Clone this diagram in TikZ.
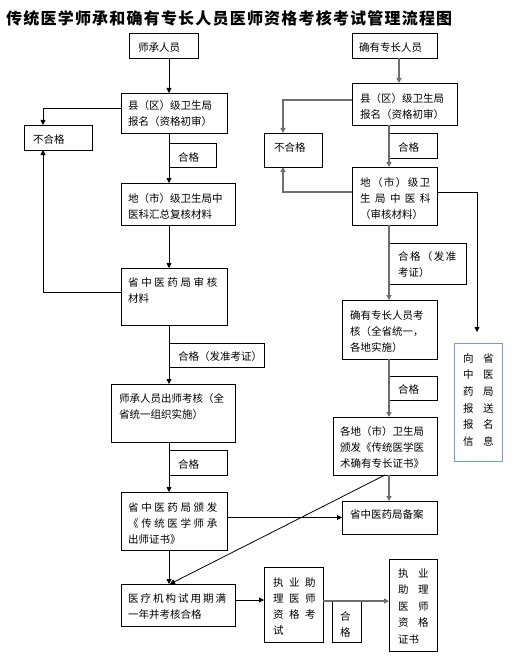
\documentclass[tikz,border=0pt]{standalone}
\usepackage{fontspec}
\newfontfamily\cjk{Noto Sans CJK SC}
\usetikzlibrary{arrows.meta}
\def\spc#1#2{\def\spcamt{#1}\spcloop#2\relax}
\def\spcloop#1{\ifx#1\relax\else#1\kern\spcamt\expandafter\spcloop\fi}
\definecolor{lgray}{HTML}{6E6E6E}
\definecolor{infoblue}{HTML}{7B9CC9}
\tikzset{
  box/.style={draw, line width=0.8pt, anchor=north west, inner sep=0pt, outer sep=0pt},
  txt/.style={anchor=north west, inner sep=0pt, align=left, font=\cjk\fontsize{10.5}{16}\selectfont},
  larr/.style={draw, line width=0.8pt, -{Triangle[length=5pt,width=5pt]}},
  lline/.style={draw, line width=0.8pt},
  rarr/.style={draw=lgray, line width=1.3pt, -{Triangle[length=5pt,width=5pt]}},
  rline/.style={draw=lgray, line width=1.3pt},
}
\begin{document}
\begin{tikzpicture}[x=1pt,y=-1pt]
\useasboundingbox (0,0) rectangle (514,658);
% title
\node[anchor=north west, inner sep=0pt, font=\cjk\bfseries\fontsize{16}{18}\selectfont] (title) at (6,10) {\spc{1.2pt}{传统医学师承和确有专长人员医师资格考核考试管理流程图}};
% ---------- left column ----------
\node[box, minimum width=69pt, minimum height=25pt] (L0) at (129,33) {};
\node[txt] (L0t) at (138,42) {师承人员};
\node[box, minimum width=106pt, minimum height=40pt] (L1) at (121,93) {};
\node[txt] (L1t) at (128,100) {县（区）级卫生局\\报名（资格初审）};
\node[box, minimum width=68pt, minimum height=25pt] (Lno) at (24,125) {};
\node[txt] (Lnot) at (33,134) {不合格};
\node[box, minimum width=47pt, minimum height=24pt] (Lq1) at (169,143) {};
\node[txt] (Lq1t) at (178,152) {合格};
\node[box, minimum width=114pt, minimum height=42pt] (L2) at (121,183) {};
\node[txt] (L2t) at (128,193) {地（市）级卫生局中\\医科汇总复核材料};
\node[box, minimum width=106pt, minimum height=57pt] (L3) at (121,268) {};
\node[txt] (L3t) at (128,277) {\spc{2.6pt}{省中医药局审核}\\材料};
\node[box, minimum width=95pt, minimum height=24pt] (Lq2) at (169,343) {};
\node[txt] (Lq2t) at (178,351) {合格（发准考证）};
\node[box, minimum width=124pt, minimum height=58pt] (L4) at (111,384) {};
\node[txt] (L4t) at (119,393) {师承人员出师考核（全\\省统一组织实施）};
\node[box, minimum width=58pt, minimum height=25pt] (Lq3) at (169,450) {};
\node[txt] (Lq3t) at (178,459) {合格};
\node[box, minimum width=106pt, minimum height=58pt] (L5) at (121,492) {};
\node[txt] (L5t) at (128,502) {\spc{2.6pt}{省中医药局颁发}\\\spc{2.6pt}{《传统医学师承}\\出师证书》};
\node[box, minimum width=114pt, minimum height=42pt] (L6) at (121,584) {};
\node[txt] (L6t) at (128,593) {\spc{2pt}{医疗机构试用期满}\\一年并考核合格};
% ---------- right column ----------
\node[box, minimum width=85pt, minimum height=25pt] (R0) at (352,33) {};
\node[txt] (R0t) at (359,42) {确有专长人员};
\node[box, minimum width=105pt, minimum height=42pt] (R1) at (352,83) {};
\node[txt] (R1t) at (360,93) {县（区）级卫生局\\报名（资格初审）};
\node[box, minimum width=58pt, minimum height=34pt] (Rno) at (264,133) {};
\node[txt] (Rnot) at (274,142) {不合格};
\node[box, minimum width=48pt, minimum height=25pt] (Rq1) at (389,133) {};
\node[txt] (Rq1t) at (398,142) {合格};
\node[box, minimum width=85pt, minimum height=58pt] (R2) at (352,167) {};
\node[txt] (R2t) at (360,177) {\spc{1.4pt}{地（市）级卫}\\\spc{4.4pt}{生局中医科}\\（审核材料）};
\node[box, minimum width=77pt, minimum height=41pt] (Rq2) at (389,243) {};
\node[txt] (Rq2t) at (398,251) {\spc{1.4pt}{合格（发准}\\考证）};
\node[box, minimum width=95pt, minimum height=59pt] (R3) at (342,300) {};
\node[txt] (R3t) at (350,310) {确有专长人员考\\核（全省统一，\\各地实施）};
\node[box, minimum width=48pt, minimum height=24pt] (Rq3) at (389,376) {};
\node[txt] (Rq3t) at (398,384) {合格};
\node[box, minimum width=104pt, minimum height=58pt] (R4) at (333,417) {};
\node[txt] (R4t) at (340,426) {各地（市）卫生局\\颁发《传统医学医\\术确有专长证书》};
\node[box, draw=infoblue, minimum width=48pt, minimum height=118pt] (Rinfo) at (454,343) {};
\node[txt, font=\cjk\fontsize{10.5}{16.7}\selectfont] (Rinfot) at (463,353) {\spc{9.5pt}{向省}\\\spc{9.5pt}{中医}\\\spc{9.5pt}{药局}\\\spc{9.5pt}{报送}\\\spc{9.5pt}{报名}\\\spc{9.5pt}{信息}};
\node[box, minimum width=95pt, minimum height=33pt] (Rbei) at (342,501) {};
\node[txt] (Rbeit) at (350,509) {省中医药局备案};
\node[box, minimum width=59pt, minimum height=75pt] (Rexam) at (264,567) {};
\node[txt, font=\cjk\fontsize{10.5}{16.3}\selectfont] (Rexamt) at (273,577) {\spc{5.5pt}{执业助}\\\spc{5.5pt}{理医师}\\\spc{5.5pt}{资格考}\\试};
\node[box, minimum width=29pt, minimum height=41pt] (Rq4) at (332,601) {};
\node[txt] (Rq4t) at (340,611) {合\\格};
\node[box, minimum width=48pt, minimum height=92pt] (Rcert) at (389,559) {};
\node[txt, font=\cjk\fontsize{10.5}{16.5}\selectfont] (Rcertt) at (398,568) {\spc{9.5pt}{执业}\\\spc{9.5pt}{助理}\\\spc{9.5pt}{医师}\\\spc{9.5pt}{资格}\\证书};
% ---------- helper coordinates ----------
\coordinate (xL) at (169,0);
\coordinate (xLno) at (43,0);
\coordinate (xR0) at (399,0);
\coordinate (xR) at (389,0);
\coordinate (xRno) at (283,0);
\coordinate (xInfo) at (477,0);
\coordinate (infoTip) at (477,332);
\coordinate (L6in) at (170,584);
\coordinate (R4out) at (385,475);
% ---------- left connectors ----------
\path[larr] (L0.south -| xL) -- (L1.north -| xL);
\path[larr] ([yshift=5pt]L1.west) -| (Lno.north -| xLno);
\path[larr] (L1.south -| xL) -- (L2.north -| xL);
\path[larr] (L2.south -| xL) -- (L3.north -| xL);
\path[larr] ([yshift=4.5pt]L3.west) -| (Lno.south -| xLno);
\path[larr] (L3.south -| xL) -- (L4.north -| xL);
\path[larr] (L4.south -| xL) -- (L5.north -| xL);
\path[larr] (L5.south -| xL) -- (L6.north -| xL);
\path[larr] (L5.east |- Rbei.west) -- (Rbei.west);
\path[larr] ([yshift=5pt]L6.east) -- ([yshift=5pt]L6.east -| Rexam.west);
\path[larr] (R4out) -- (L6in);
% ---------- right connectors ----------
\path[rarr] (R0.south -| xR0) -- (R1.north -| xR0);
\path[rarr] ([yshift=4pt]R1.west) -| (Rno.north -| xRno);
\path[rarr] (R1.south -| xR) -- (R2.north -| xR);
\path[rarr] ([yshift=4pt]R2.west) -| (Rno.south -| xRno);
\path[larr] ([yshift=4pt]R2.east) -| (infoTip);
\path[rarr] (R2.south -| xR) -- (R3.north -| xR);
\path[rarr] (R3.south -| xR) -- (R4.north -| xR);
\path[rarr] (R4.south -| xR) -- (Rbei.north -| xR);
\path[rarr] ([yshift=3.5pt]Rexam.east) -- ([yshift=3.5pt]Rexam.east -| Rcert.west);
\end{tikzpicture}
\end{document}
